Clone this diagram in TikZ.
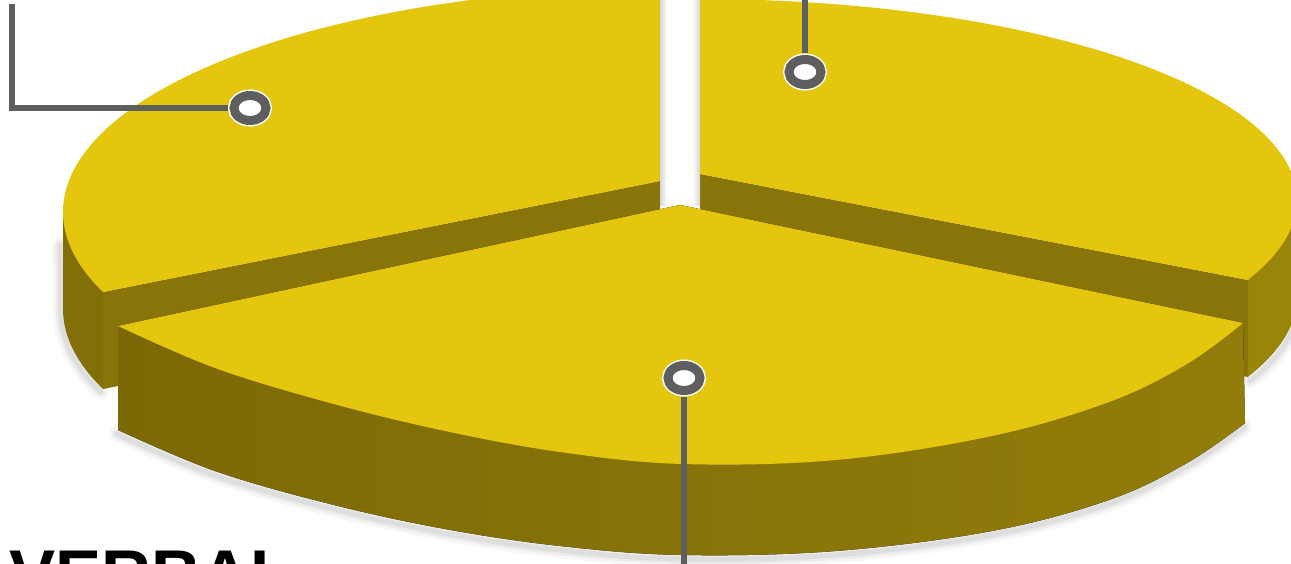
\documentclass[tikz,border=0pt]{standalone}
\usepackage{fontspec}
\setmainfont{Liberation Sans}
\usetikzlibrary{shapes.geometric}
\definecolor{topY}{RGB}{229,198,14}
\definecolor{sideD}{RGB}{131,111,7}
\definecolor{sideDL}{RGB}{124,105,6}
\definecolor{sideDR}{RGB}{146,125,10}
\definecolor{bandC}{RGB}{136,116,8}
\definecolor{sideR}{RGB}{154,133,11}
\definecolor{ringG}{RGB}{94,94,94}
\begin{document}
\begin{tikzpicture}[x=1pt,y=-1pt,
  leader/.style={draw=ringG, line width=6pt},
  marker/.style={ellipse, fill=white, draw=ringG, line width=9pt, inner sep=0pt,
    minimum width=32pt, minimum height=25pt, preaction={draw=white, line width=12pt}},
  softshadow/.style={draw=black, opacity=#1, line cap=round, line join=round},
  sm/.style={smooth, tension=0.6}]
\useasboundingbox (0,0) rectangle (1291,564);
\fill[white] (0,0) rectangle (1291,564);

% ---------- soft shadows ----------
\foreach \w/\o in {16/0.03, 10/0.045, 5/0.06}{
  \draw[softshadow=\o, line width=\w pt]
    (60,245) -- plot[domain=180:159.2, samples=30, variable=\t] ({675+612*cos(\t)-2},{309+225*sin(\t)+3});
  \draw[softshadow=\o, line width=\w pt, shift={(-1,4)}]
    plot[sm] coordinates {(118,430) (215,471) (330,504) (445,529) (560,546) (682,555) (836,551) (992,531) (1109,500) (1187,463) (1245,423)};
  \draw[softshadow=\o, line width=\w pt]
    plot[domain=23.4:0, samples=20, variable=\t] ({700+597*cos(\t)+2},{297+201*sin(\t)+4});
}

% ---------- left (back) slice ----------
\fill[sideD] (103,292) -- (103,389) -- plot[domain=159.2:180, samples=30, variable=\t] ({675+612*cos(\t)},{309+225*sin(\t)}) -- (63,212) -- cycle;
\fill[bandC] (103,292) -- (660,181) -- (660,278) -- (103,389) -- cycle;
\fill[topY] (660,181) -- (103,292) -- plot[domain=159.2:268.6, samples=120, variable=\t] ({675+612*cos(\t)},{212+225*sin(\t)}) -- (660,-20) -- cycle;

% ---------- right (back) slice ----------
\fill[sideR] (1248,280) -- (1248,377) -- plot[domain=23.4:0, samples=20, variable=\t] ({700+597*cos(\t)},{297+201*sin(\t)}) -- (1300,200) -- cycle;
\fill[bandC] (700,174) -- (1248,280) -- (1248,377) -- (700,271) -- cycle;
\fill[topY] (700,-20) -- (700,174) -- (1248,280) -- plot[domain=23.4:-90, samples=120, variable=\t] ({700+597*cos(\t)},{200+201*sin(\t)}) -- cycle;

% gap shading
\fill[left color=black!16, right color=white] (660,-2) rectangle (667,206);
\fill[left color=white, right color=black!16] (692,-2) rectangle (700,206);

% ---------- front slice ----------
\fill[left color=sideDL, middle color=sideD, right color=sideDR]
  (680,205) -- (118,326) -- (118,430) -- plot[sm] coordinates {(118,430) (215,471) (330,504) (445,529) (560,546) (682,555) (836,551) (992,531) (1109,500) (1187,463) (1245,423)} -- (1243,323) -- cycle;
\fill[topY] (680,205) -- (118,326) -- plot[sm] coordinates {(118,326) (215,368) (330,403) (445,431) (560,452) (682,464) (836,460) (992,436) (1109,402) (1187,364) (1243,323)} -- cycle;

% ---------- markers and leader lines ----------
\node[marker] (m1) at (250,108) {};
\node[marker] (m2) at (805,72) {};
\node[marker] (m3) at (684,378) {};
\coordinate (c1top) at (12,4);
\coordinate (c2top) at (805,-5);
\coordinate (c3bot) at (684,570);
\draw[leader, shorten <=1.5pt] (m1.west) -| (c1top);
\draw[leader, shorten <=1.5pt] (m2.north) -- (c2top);
\draw[leader, shorten <=1.5pt] (m3.south) -- (c3bot);

% ---------- label ----------
\node[anchor=base west, inner sep=0pt, font=\bfseries\fontsize{69}{69}\selectfont] (verbal) at (9,598) {VERBAL};
\end{tikzpicture}
\end{document}
